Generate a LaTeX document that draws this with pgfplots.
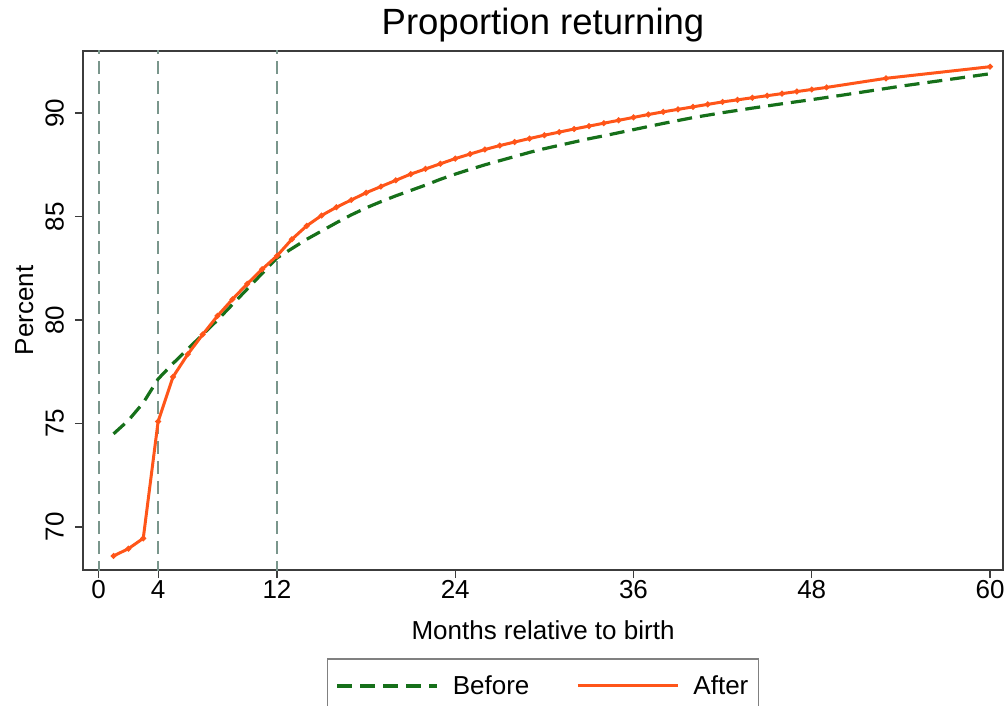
\documentclass[border=0pt]{standalone}
\usepackage{fontspec}
\setmainfont{Liberation Sans}
\usepackage{pgfplots}
\usepackage{pgfplotstable}
\pgfplotsset{compat=1.18}
\definecolor{befc}{RGB}{22,112,26}
\definecolor{aftc}{RGB}{255,85,25}
\definecolor{vlc}{RGB}{122,150,140}
\definecolor{frm}{RGB}{60,60,60}

\pgfplotstableread{
x y
1 74.50
2 75.15
3 76.00
4 77.15
5 77.90
6 78.60
7 79.30
8 80.00
9 80.75
10 81.50
11 82.25
12 83.00
13 83.45
14 83.90
15 84.30
16 84.70
17 85.08
18 85.42
19 85.72
20 86.00
21 86.26
22 86.52
23 86.80
24 87.05
25 87.28
26 87.50
27 87.70
28 87.90
29 88.10
30 88.28
31 88.44
32 88.60
33 88.76
34 88.90
35 89.05
36 89.20
38 89.50
40 89.78
42 90.02
44 90.24
46 90.45
48 90.65
50 90.86
52 91.08
54 91.30
56 91.50
58 91.70
60 91.90
}\before

\pgfplotstableread{
x y
1 68.60
2 68.95
3 69.45
4 75.10
5 77.25
6 78.35
7 79.30
8 80.20
9 81.00
10 81.75
11 82.45
12 83.10
13 83.90
14 84.55
15 85.05
16 85.45
17 85.80
18 86.15
19 86.45
20 86.75
21 87.05
22 87.30
23 87.55
24 87.80
25 88.02
26 88.24
27 88.43
28 88.60
29 88.77
30 88.93
31 89.08
32 89.23
33 89.37
34 89.51
35 89.65
36 89.79
37 89.93
38 90.06
39 90.18
40 90.30
41 90.42
42 90.54
43 90.64
44 90.74
45 90.84
46 90.94
47 91.04
48 91.14
49 91.24
53 91.68
60 92.24
}\after

\begin{document}
\begin{tikzpicture}
\begin{axis}[
  scale only axis, width=920pt, height=519pt,
  xmin=-1.057, xmax=60.875, ymin=67.92, ymax=93.0,
  axis line style={draw=frm, line width=1.5pt},
  xtick={0,4,12,24,36,48,60}, ytick={70,75,80,85,90},
  tick align=outside, tick pos=left, major tick length=8pt,
  tick style={line width=1.2pt, draw=frm},
  /pgf/number format/assume math mode=true,
  ticklabel style={font=\fontsize{26}{30}\selectfont},
  xticklabel style={inner sep=2pt},
  yticklabel style={rotate=90, anchor=south, inner sep=11pt},
  xlabel={Months relative to birth}, ylabel={Percent},
  label style={font=\fontsize{26}{30}\selectfont},
  xlabel style={at={(axis description cs:0.5,-0.133)}, anchor=base},
  ylabel style={at={(axis description cs:-0.0543,0.5)}, anchor=base},
  title={Proportion returning},
  title style={font=\fontsize{36.5}{40}\selectfont, at={(axis description cs:0.5,1)}, anchor=base, yshift=10pt},
  legend columns=2,
  legend style={at={(axis description cs:0.5,-0.1696)}, anchor=north, draw=gray, line width=1.5pt,
    font=\fontsize{26}{30}\selectfont, inner xsep=8pt, inner ysep=15pt,
    /tikz/every odd column/.append style={column sep=12pt},
    /tikz/every even column/.append style={column sep=45pt}},
  legend image code/.code={\draw[#1] (0pt,0pt) -- (100pt,0pt);},
]
\addplot[vlc, line width=2pt, dash pattern=on 13pt off 7pt, forget plot] coordinates {(0,60) (0,100)};
\addplot[vlc, line width=2pt, dash pattern=on 13pt off 7pt, forget plot] coordinates {(4,60) (4,100)};
\addplot[vlc, line width=2pt, dash pattern=on 13pt off 7pt, forget plot] coordinates {(12,60) (12,100)};
\addplot[befc, line width=3.2pt, dash pattern=on 15pt off 8pt, no markers] table[x=x,y=y] {\before};
\addlegendentry{Before}
\addplot[aftc, line width=3pt, mark=*, mark size=1.1pt, mark options={solid}] table[x=x,y=y] {\after};
\addlegendentry{After}
\end{axis}
\pgfresetboundingbox
\path[use as bounding box] ([xshift=-83pt,yshift=-135pt]current axis.south west) rectangle ([xshift=3pt,yshift=51pt]current axis.north east);
\end{tikzpicture}
\end{document}
